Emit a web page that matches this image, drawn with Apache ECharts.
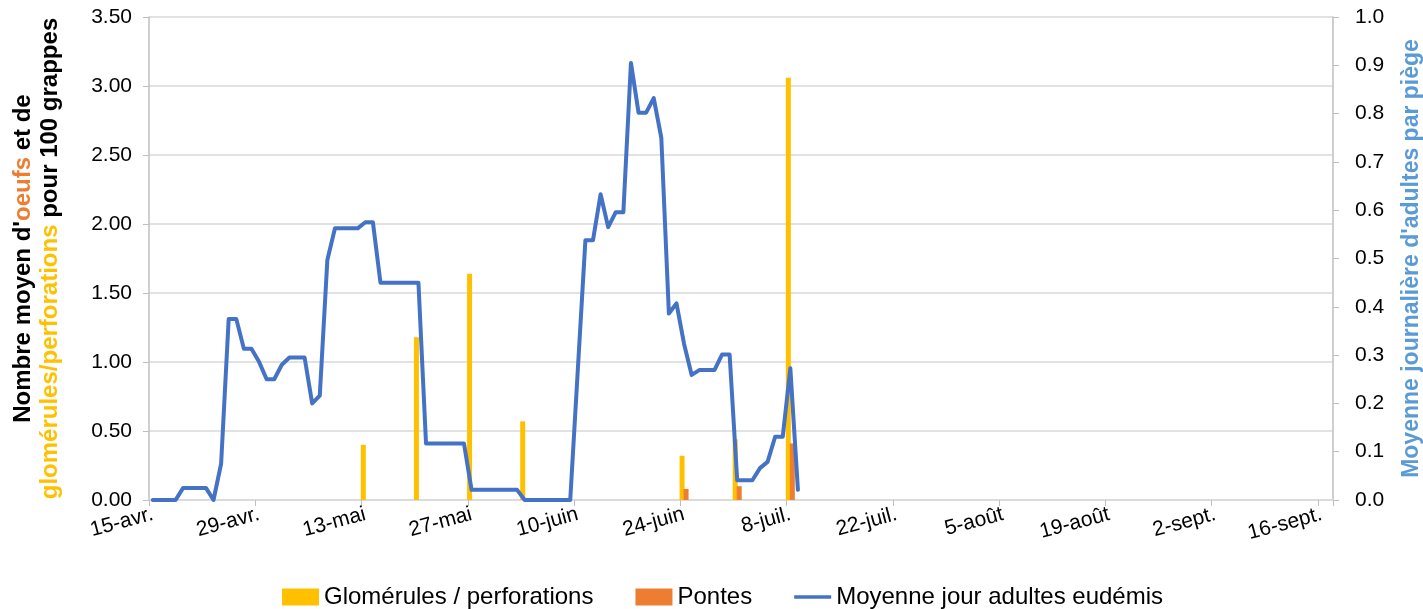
<!DOCTYPE html>
<html>
<head>
<meta charset="utf-8">
<title>Eudémis</title>
<script src="https://cdn.jsdelivr.net/npm/echarts@6.0.0/dist/echarts.min.js"></script>
<style>
    html, body { margin: 0; padding: 0; background: #fff; }
    #chart { width: 1423px; height: 609px; }
</style>
</head>
<body>
<div id="chart"></div>
<script>
// axe des dates : du 15 avril au 17 septembre, un jour par catégorie
const moisAbbr = ['janv.', 'févr.', 'mars', 'avr.', 'mai', 'juin', 'juil.', 'août', 'sept.']
const debut = [3, 15]   // mois (index), jour
const nbJours = 156

// moyenne jour adultes eudémis (axe de droite), à partir du 15-avr.
const adultes = [
    0, 0, 0, 0, 0.025, 0.025, 0.025, 0.025, 0, 0.075,
    0.375, 0.375, 0.313, 0.313, 0.286, 0.25, 0.25, 0.28, 0.295, 0.295,
    0.295, 0.2, 0.216, 0.497, 0.5625, 0.5625, 0.5625, 0.5625, 0.575, 0.575,
    0.45, 0.45, 0.45, 0.45, 0.45, 0.45, 0.117, 0.117, 0.117, 0.117,
    0.117, 0.117, 0.021, 0.021, 0.021, 0.021, 0.021, 0.021, 0.021, 0,
    0, 0, 0, 0, 0, 0, 0.27, 0.538, 0.538, 0.633,
    0.565, 0.596, 0.596, 0.905, 0.802, 0.802, 0.832, 0.75, 0.386, 0.407,
    0.323, 0.259, 0.269, 0.269, 0.269, 0.301, 0.301, 0.041, 0.041, 0.041,
    0.066, 0.079, 0.131, 0.131, 0.273, 0.021
]

// glomérules / perforations (axe de gauche)
const glomDates = ['13-mai', '20-mai', '27-mai', '3-juin', '24-juin', '1-juil.', '8-juil.']
const glomValeurs = [0.40, 1.18, 1.64, 0.57, 0.32, 0.44, 3.06]

// pontes (axe de gauche)
const ponteDates = ['24-juin', '1-juil.', '8-juil.']
const ponteValeurs = [0.08, 0.10, 0.41]

const police = 'Liberation Sans'

const makeDays = () => {
    const jours = []
    const d = new Date(Date.UTC(2021, debut[0], debut[1]))
    for (let i = 0; i < nbJours; i++) {
        jours.push(d.getUTCDate() + '-' + moisAbbr[d.getUTCMonth()])
        d.setUTCDate(d.getUTCDate() + 1)
    }
    return jours
}

const jours = makeDays()
const ligne = jours.map((j, i) => (i < adultes.length ? adultes[i] : null))
const glom = glomDates.map((j, i) => [j, glomValeurs[i]])
const pontes = ponteDates.map((j, i) => [j, ponteValeurs[i]])

const nomStyle = (color, size) => ({ color, fontSize: size, fontWeight: 'bold', fontFamily: police, lineHeight: 27 })

var myChart = echarts.init(document.getElementById('chart'), null, { renderer: 'canvas' })
var option = {
    animation: false,
    textStyle: { fontFamily: police },
    grid: { left: 149, right: 90, top: 17, bottom: 109, outerBoundsMode: 'none' },
    legend: {
        top: 580,
        left: 277,
        itemWidth: 37,
        itemHeight: 17,
        itemGap: 42,
        symbolKeepAspect: true,
        textStyle: { fontSize: 24, color: '#000', fontFamily: police },
        data: [
            { name: 'Glomérules / perforations', icon: 'rect' },
            { name: 'Pontes', icon: 'rect' },
            { name: 'Moyenne jour adultes eudémis', icon: 'path://M0,0 L40,0 L40,4 L0,4 Z' }
        ]
    },
    xAxis: {
        type: 'category',
        data: jours,
        boundaryGap: true,
        axisLine: { lineStyle: { color: '#d9d9d9', width: 1.5 } },
        axisTick: { show: true, interval: 13, length: 6, lineStyle: { color: '#bfbfbf' } },
        axisLabel: {
            interval: 13,
            rotate: 15,
            margin: 14,
            fontSize: 21,
            color: '#000',
            fontFamily: police
        },
        splitLine: { show: false }
    },
    yAxis: [
        {
            type: 'value',
            position: 'left',
            min: 0,
            max: 3.5,
            interval: 0.5,
            axisLine: { show: true, lineStyle: { color: '#bfbfbf', width: 1.5 } },
            axisTick: { show: true, length: 6, lineStyle: { color: '#bfbfbf' } },
            axisLabel: {
                formatter: v => v.toFixed(2),
                fontSize: 21,
                color: '#000',
                margin: 17,
                fontFamily: police
            },
            splitLine: { lineStyle: { color: '#d9d9d9', width: 1.5 } },
            name: "{k|Nombre moyen d'}{o|oeufs}{k| et de}\n{y|glomérules/perforations}{k| pour 100 grappes}",
            nameLocation: 'middle',
            nameRotate: 90,
            nameGap: 85,
            nameTextStyle: {
                fontSize: 24,
                fontWeight: 'bold',
                lineHeight: 27,
                color: '#000',
                fontFamily: police,
                rich: {
                    k: nomStyle('#000', 24),
                    o: nomStyle('#ED7D31', 24),
                    y: nomStyle('#FFC000', 24)
                }
            }
        },
        {
            type: 'value',
            position: 'right',
            min: 0,
            max: 1,
            interval: 0.1,
            axisLine: { show: true, lineStyle: { color: '#bfbfbf', width: 1.5 } },
            axisTick: { show: true, length: 6, lineStyle: { color: '#bfbfbf' } },
            axisLabel: {
                formatter: v => v.toFixed(1),
                fontSize: 21,
                color: '#000',
                margin: 22,
                fontFamily: police
            },
            splitLine: { show: false },
            name: "Moyenne journalière d'adultes par piège",
            nameLocation: 'middle',
            nameRotate: 90,
            nameGap: 65,
            nameTextStyle: nomStyle('#5B9BD5', 23)
        }
    ],
    series: [
        {
            name: 'Glomérules / perforations',
            type: 'bar',
            yAxisIndex: 0,
            barWidth: 5,
            barGap: '-20%',
            itemStyle: { color: '#FFC000' },
            data: glom
        },
        {
            name: 'Pontes',
            type: 'bar',
            yAxisIndex: 0,
            barWidth: 5,
            barGap: '-20%',
            itemStyle: { color: '#ED7D31' },
            data: pontes
        },
        {
            name: 'Moyenne jour adultes eudémis',
            type: 'line',
            yAxisIndex: 1,
            symbol: 'none',
            connectNulls: false,
            itemStyle: { color: '#4472C4' },
            lineStyle: { color: '#4472C4', width: 4, join: 'round', cap: 'round' },
            data: ligne
        }
    ]
}
myChart.setOption(option)
</script>
</body>
</html>
